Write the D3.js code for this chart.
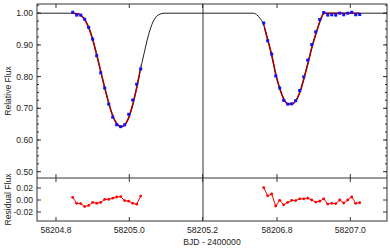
<!DOCTYPE html>
<html><head><meta charset="utf-8">
<script src="https://cdn.jsdelivr.net/npm/d3@7"></script>
<style>body{margin:0;background:#fff}svg{display:block}text{font-family:"Liberation Sans",Arial,sans-serif;fill:#222}</style>
</head><body><svg id="c" width="390" height="249"></svg>
<script>
// ---- data ----
const leftTime = [58204.8456,58204.8565,58204.8674,58204.8783,58204.8892,58204.9001,58204.9111,58204.9220,58204.9329,58204.9438,58204.9547,58204.9656,58204.9765,58204.9874,58204.9984,58205.0093,58205.0202,58205.0311];
const leftFlux = [1.003,0.994,0.994,0.981,0.955,0.918,0.866,0.812,0.764,0.713,0.672,0.648,0.642,0.648,0.681,0.726,0.776,0.824];
const leftResid = [0.0045,-0.0055,-0.006,-0.011,-0.009,-0.004,-0.0055,-0.004,0.001,0.001,0.003,0.005,0.0055,-0.001,-0.002,-0.0055,-0.007,0.0065];

const rightTime = [58206.7637,58206.7746,58206.7855,58206.7965,58206.8074,58206.8183,58206.8292,58206.8401,58206.8510,58206.8619,58206.8729,58206.8838,58206.8947,58206.9056,58206.9165,58206.9274,58206.9383,58206.9493,58206.9602,58206.9711,58206.9820,58206.9929,58207.0038,58207.0147,58207.0256];
const rightFlux = [0.969,0.913,0.871,0.802,0.764,0.725,0.713,0.714,0.724,0.756,0.799,0.852,0.901,0.941,0.980,1.002,0.994,0.995,0.994,1.000,0.995,1.000,1.003,0.995,0.996];
const rightResid = [0.0205,0.007,0.010,-0.010,-0.0005,-0.008,-0.004,-0.0005,-0.001,0.002,0.002,0.003,0,-0.0035,-0.002,0.002,-0.0067,-0.0055,-0.006,0,-0.005,0,0.005,-0.0055,-0.0045];

const leftModelTime = [58204.7482,58204.8382,58204.8546,58204.8655,58204.8764,58204.8873,58204.8982,58204.9091,58204.9201,58204.9310,58204.9419,58204.9528,58204.9637,58204.9746,58204.9801,58204.9855,58204.9965,58205.0074,58205.0183,58205.0292,58205.0401,58205.0510,58205.0619,58205.0728,58205.0838,58205.0947,58205.2011];
const leftModelFlux = [1.0,1.0,0.999,0.995,0.983,0.960,0.925,0.878,0.826,0.774,0.725,0.683,0.655,0.643,0.642,0.645,0.665,0.703,0.755,0.815,0.872,0.925,0.965,0.988,0.997,1.0,1.0];
const rightModelTime = [58206.5981,58206.7263,58206.7353,58206.7446,58206.7536,58206.7626,58206.7735,58206.7855,58206.7965,58206.8082,58206.8191,58206.8300,58206.8409,58206.8518,58206.8628,58206.8737,58206.8854,58206.8963,58206.9072,58206.9181,58206.9263,58206.9310,58207.1001];
const rightModelFlux = [1.0,1.0,1.0,0.995,0.984,0.966,0.921,0.868,0.808,0.760,0.728,0.714,0.714,0.724,0.752,0.795,0.847,0.897,0.939,0.977,0.998,1.0,1.0];

const fluxTicks = [1.00,0.90,0.80,0.70,0.60,0.50];
const residTicks = [0.02,0.00,-0.02];
const leftXTicks = [58204.8,58205.0,58205.2];
const rightXTicks = [58206.8,58207.0];

// ---- layout ----
const L=37,R=387,T=4,S=178,B=221,BX=203;
const svg=d3.select("#c");
const xl=d3.scaleLinear().domain([58204.7482,58205.2011]).range([L,BX]);
const xr=d3.scaleLinear().domain([58206.5981,58207.1001]).range([BX,R]);
const y=d3.scaleLinear().domain([0.48,1.029]).range([S,T]);
const yr=d3.scaleLinear().domain([-0.035,0.0367]).range([B,S]);

const defs=svg.append("defs");
defs.append("clipPath").attr("id","cl").append("rect").attr("x",L).attr("y",T).attr("width",BX-L).attr("height",S-T);
defs.append("clipPath").attr("id","cr").append("rect").attr("x",BX).attr("y",T).attr("width",R-BX).attr("height",S-T);

const frame="#333";
// ticks
const tk=svg.append("g").attr("stroke",frame).attr("stroke-width",1);
fluxTicks.forEach(v=>{
  tk.append("line").attr("x1",L).attr("x2",L+4).attr("y1",y(v)).attr("y2",y(v));
  tk.append("line").attr("x1",R).attr("x2",R-4).attr("y1",y(v)).attr("y2",y(v));
});
d3.range(0.5,1.026,0.025).forEach(v=>{
  tk.append("line").attr("x1",L).attr("x2",L+2).attr("y1",y(v)).attr("y2",y(v));
  tk.append("line").attr("x1",R).attr("x2",R-2).attr("y1",y(v)).attr("y2",y(v));
});
residTicks.forEach(v=>{
  tk.append("line").attr("x1",L).attr("x2",L+4).attr("y1",yr(v)).attr("y2",yr(v));
  tk.append("line").attr("x1",R).attr("x2",R-4).attr("y1",yr(v)).attr("y2",yr(v));
});
const xt=[...leftXTicks.map(t=>xl(t)),...rightXTicks.map(t=>xr(t))];
xt.forEach(px=>{
  [[T,T+4],[S,S+4],[S,S-4],[B,B-4]].forEach(([a,b])=>tk.append("line").attr("x1",px).attr("x2",px).attr("y1",a).attr("y2",b));
});

// tick labels
const lab=svg.append("g").attr("font-size",8.6);
fluxTicks.forEach(v=>lab.append("text").attr("x",L-4).attr("y",y(v)+3).attr("text-anchor","end").text(v.toFixed(2)));
residTicks.forEach(v=>lab.append("text").attr("x",L-4).attr("y",yr(v)+3).attr("text-anchor","end").text(v.toFixed(2)));
leftXTicks.forEach(t=>lab.append("text").attr("x",xl(t)).attr("y",233).attr("text-anchor","middle").text(t.toFixed(1)));
rightXTicks.forEach(t=>lab.append("text").attr("x",xr(t)).attr("y",233).attr("text-anchor","middle").text(t.toFixed(1)));
svg.append("text").attr("x",(L+R)/2).attr("y",245).attr("text-anchor","middle").attr("font-size",8.6).text("BJD - 2400000");
svg.append("text").attr("transform",`translate(11,${(T+S)/2}) rotate(-90)`).attr("text-anchor","middle").attr("font-size",8.6).text("Relative Flux");
svg.append("text").attr("transform",`translate(11,${(S+B)/2}) rotate(-90)`).attr("text-anchor","middle").attr("font-size",8.6).text("Residual Flux");

// model and data
function panel(xs,clip,mt,mf,dt,df,dr){
  const g=svg.append("g").attr("clip-path",`url(#${clip})`);
  const pts=mt.map((t,i)=>[t,mf[i]]);
  const line=d3.line().x(d=>xs(d[0])).y(d=>y(d[1])).curve(d3.curveMonotoneX);
  g.append("path").attr("d",line(pts)).attr("fill","none").attr("stroke","#222").attr("stroke-width",1);
  const id=clip+"d";
  defs.append("clipPath").attr("id",id).append("rect").attr("x",xs(dt[0])).attr("y",T).attr("width",xs(dt[dt.length-1])-xs(dt[0])).attr("height",S-T);
  svg.append("g").attr("clip-path",`url(#${id})`).append("path").attr("d",line(pts)).attr("fill","none").attr("stroke","#a00000").attr("stroke-width",1.6);
  svg.append("g").selectAll("rect").data(dt).join("rect")
    .attr("x",(d)=>xs(d)-1.5).attr("y",(d,i)=>y(df[i])-1.5).attr("width",3).attr("height",3).attr("fill","#1010ff");
  const rl=d3.line().x((d,i)=>xs(dt[i])).y(d=>yr(d));
  svg.append("path").attr("d",rl(dr)).attr("fill","none").attr("stroke","#ff0000").attr("stroke-width",1);
  svg.append("g").selectAll("circle").data(dr).join("circle").attr("cx",(d,i)=>xs(dt[i])).attr("cy",d=>yr(d)).attr("r",1.4).attr("fill","#ff0000");
}
panel(xl,"cl",leftModelTime,leftModelFlux,leftTime,leftFlux,leftResid);
panel(xr,"cr",rightModelTime,rightModelFlux,rightTime,rightFlux,rightResid);

// frame
const fr=svg.append("g").attr("stroke",frame).attr("stroke-width",1).attr("fill","none");
fr.append("rect").attr("x",L).attr("y",T).attr("width",R-L).attr("height",B-T);
fr.append("line").attr("x1",L).attr("x2",R).attr("y1",S).attr("y2",S);
fr.append("line").attr("x1",BX).attr("x2",BX).attr("y1",T).attr("y2",B);
</script></body></html>
